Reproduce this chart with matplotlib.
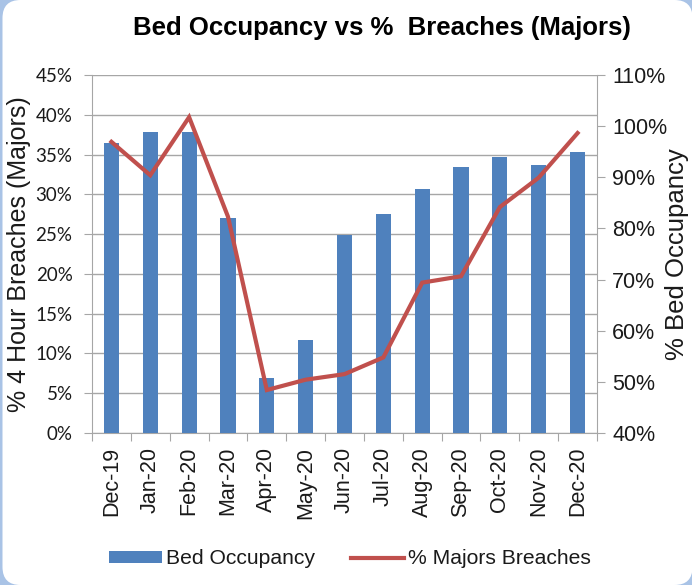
import matplotlib
matplotlib.use("Agg")
import matplotlib.pyplot as plt
from matplotlib.patches import FancyBboxPatch
from matplotlib.ticker import FuncFormatter, MultipleLocator

months = ["Dec-19", "Jan-20", "Feb-20", "Mar-20", "Apr-20", "May-20", "Jun-20",
          "Jul-20", "Aug-20", "Sep-20", "Oct-20", "Nov-20", "Dec-20"]
bed_occupancy = [96.8, 98.8, 98.8, 82.1, 50.8, 58.2, 78.7, 82.8, 87.8, 92.0, 94.0, 92.5, 95.0]
majors_breaches = [36.6, 32.4, 39.7, 27.2, 5.4, 6.7, 7.4, 9.5, 18.9, 19.7, 28.4, 32.1, 37.7]

title = "Bed Occupancy vs %  Breaches (Majors)"
left_label = "% 4 Hour Breaches (Majors)"
right_label = "% Bed Occupancy"

bar_color = "#4F81BD"
line_color = "#C0504D"
grid_color = "#A6A6A6"
text_color = "#1a1a1a"

W, H = 692, 585
fig = plt.figure(figsize=(W / 100, H / 100), dpi=100)
fig.patch.set_facecolor("#A9C3E6")

# white rounded panel over light blue background
r = 18
panel = FancyBboxPatch((2.5 / W, 0.0), (692.5 - 2.5) / W, 1.0,
                       boxstyle=f"round,pad=0,rounding_size={r / W}",
                       mutation_aspect=W / H,
                       transform=fig.transFigure, facecolor="white", edgecolor="none",
                       zorder=-10)
fig.patches.append(panel)

rect = [92 / W, 1 - 433 / H, (597 - 92) / W, (433 - 75) / H]
ax_grid = fig.add_axes(rect)
ax_bar = ax_grid.twinx()
ax_line = ax_grid.twinx()

ax_grid.set_zorder(0)
ax_bar.set_zorder(1)
ax_line.set_zorder(2)
ax_grid.patch.set_visible(False)
ax_bar.patch.set_visible(False)
ax_line.patch.set_visible(False)

x = list(range(len(months)))

# grid / left axis
ax_grid.set_xlim(-0.5, len(months) - 0.5)
ax_grid.set_ylim(0, 45)
ax_grid.yaxis.set_major_locator(MultipleLocator(5))
ax_grid.yaxis.set_major_formatter(FuncFormatter(lambda v, p: f"{v:.0f}%"))
ax_grid.grid(axis="y", color=grid_color, linewidth=1.0)
ax_grid.set_axisbelow(True)
ax_grid.tick_params(axis="y", direction="out", length=6, color=grid_color,
                    labelsize=13.5, labelcolor=text_color, pad=8)
for lab in ax_grid.get_yticklabels():
    lab.set_fontfamily("Lato")
ax_grid.set_ylabel(left_label, fontsize=18, color=text_color, family="Liberation Sans")
ax_grid.yaxis.label.set_va("center")
ax_grid.yaxis.set_label_coords(-(92 - 19) / (597 - 92), 0.5)
ax_grid.set_xticks([i - 0.5 for i in range(len(months) + 1)], minor=False)
ax_grid.set_xticklabels([])
ax_grid.tick_params(axis="x", direction="out", length=6, color=grid_color)
ax_grid.set_xticks(x, minor=True)
ax_grid.set_xticklabels(months, minor=True, rotation=90, fontsize=15.5,
                        family="Liberation Sans", color=text_color)
ax_grid.tick_params(axis="x", which="minor", length=0, pad=10)
for s in ["top", "right"]:
    ax_grid.spines[s].set_visible(False)
for s in ["left", "bottom"]:
    ax_grid.spines[s].set_color(grid_color)

# bars on right axis
ax_bar.bar(x, bed_occupancy, width=0.39, color=bar_color, label="Bed Occupancy", zorder=2)
ax_bar.set_ylim(40, 110)
ax_bar.yaxis.set_major_locator(MultipleLocator(10))
ax_bar.yaxis.set_major_formatter(FuncFormatter(lambda v, p: f"{v:.0f}%"))
ax_bar.tick_params(axis="y", direction="out", length=6, color=grid_color,
                   labelsize=15.5, labelcolor=text_color, pad=5)
for lab in ax_bar.get_yticklabels():
    lab.set_fontfamily("Liberation Sans")
ax_bar.set_ylabel(right_label, fontsize=18.5, color=text_color, family="Liberation Sans")
ax_bar.yaxis.label.set_va("center")
ax_bar.yaxis.set_label_coords(1 + (677 - 597) / (597 - 92), 0.5)
for s in ["top", "left", "bottom"]:
    ax_bar.spines[s].set_visible(False)
ax_bar.spines["right"].set_color(grid_color)

# line on left scale
ax_line.plot(x, majors_breaches, color=line_color, linewidth=3.0, label="% Majors Breaches",
             solid_joinstyle="miter")
ax_line.set_ylim(0, 45)
ax_line.set_yticks([])
for s in ax_line.spines.values():
    s.set_visible(False)

fig.text(382 / W, 1 - 28 / H, title, ha="center", va="center", fontsize=18.5,
         fontweight="bold", family="Liberation Sans", color="black")

h1, l1 = ax_bar.get_legend_handles_labels()
h2, l2 = ax_line.get_legend_handles_labels()
leg = fig.legend(h1 + h2, l1 + l2, loc="center", bbox_to_anchor=(350 / W, 1 - 559 / H),
                 ncol=2, frameon=False, prop={"family": "Liberation Sans", "size": 15.2},
                 handlelength=2.5, handleheight=0.55, handletextpad=0.2, columnspacing=1.7)
for t in leg.get_texts():
    t.set_color(text_color)

fig.savefig("out.png", dpi=100, facecolor=fig.get_facecolor())
